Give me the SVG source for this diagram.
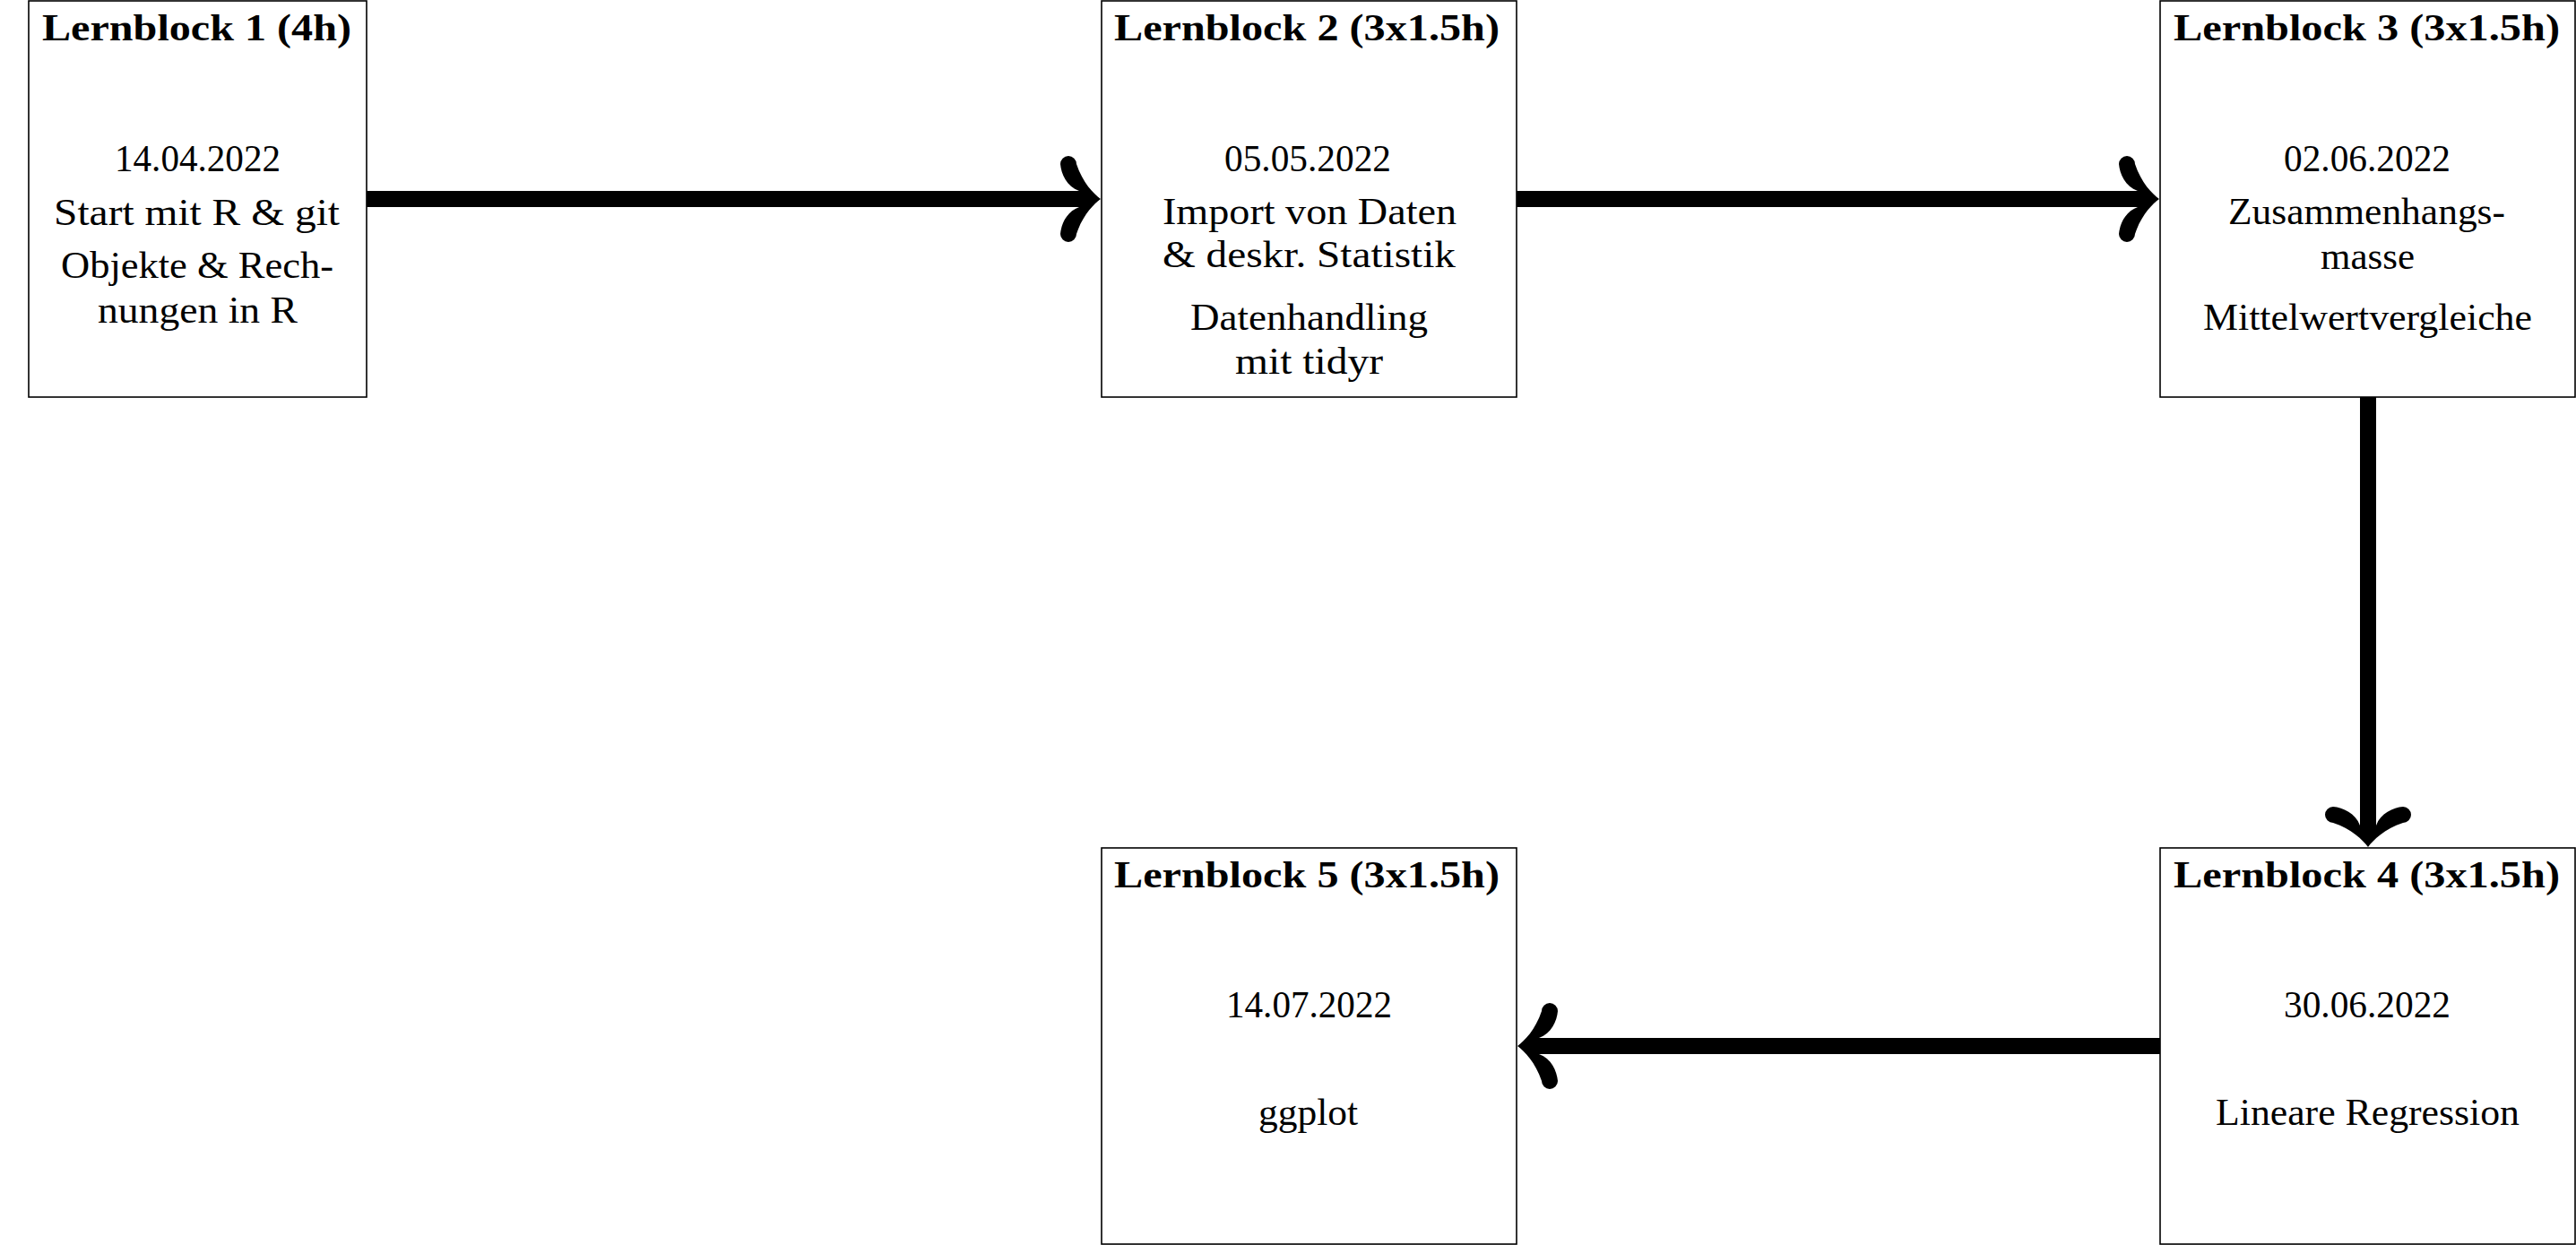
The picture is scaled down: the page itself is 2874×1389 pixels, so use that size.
<svg xmlns="http://www.w3.org/2000/svg" xmlns:xlink="http://www.w3.org/1999/xlink" width="2874" height="1389" viewBox="0 0 2874 1389">
  <style>
    .box { fill: #ffffff; stroke: #000000; stroke-width: 1.6; }
    .title { font-family: "Liberation Serif", "Times New Roman", serif; font-weight: bold; font-size: 43px; text-anchor: middle; fill: #000; }
    .body { font-family: "Liberation Serif", "Times New Roman", serif; font-size: 43px; text-anchor: middle; fill: #000; }
    .shaft { stroke: #000000; stroke-width: 18; fill: none; }
    .head { fill: #000000; }
  </style>
  <defs>
    <!-- curved barb arrowhead, tip at origin, pointing +x -->
    <path id="head" d="M 0,0 C -8,-6 -20,-18 -27,-39 A 9 9 0 0 0 -45,-39 C -44,-28 -38,-14 -24,-9 L -24,9 C -38,14 -44,28 -45,39 A 9 9 0 0 0 -27,39 C -20,18 -8,6 0,0 Z"/>
  </defs>
  <rect width="2874" height="1389" fill="#ffffff"/>

  <!-- connectors -->
  <g id="connectors">
    <line class="shaft" x1="409" y1="222" x2="1206" y2="222"/>
    <use href="#head" class="head" transform="translate(1228,222)"/>
    <line class="shaft" x1="1692" y1="222" x2="2388" y2="222"/>
    <use href="#head" class="head" transform="translate(2409,222)"/>
    <line class="shaft" x1="2642" y1="443" x2="2642" y2="924"/>
    <use href="#head" class="head" transform="translate(2642,945) rotate(90)"/>
    <line class="shaft" x1="2410" y1="1167" x2="1715" y2="1167"/>
    <use href="#head" class="head" transform="translate(1693,1167) rotate(180)"/>
  </g>

  <g id="block1">
    <rect class="box" x="32" y="1" width="377" height="442"/>
    <text class="title" x="219.5" y="45" textLength="345" lengthAdjust="spacingAndGlyphs">Lernblock 1 (4h)</text>
    <text class="body" x="220.5" y="191" textLength="185" lengthAdjust="spacingAndGlyphs">14.04.2022</text>
    <text class="body" x="219.5" y="251" textLength="319" lengthAdjust="spacingAndGlyphs">Start mit R &amp; git</text>
    <text class="body" x="220" y="310" textLength="304" lengthAdjust="spacingAndGlyphs">Objekte &amp; Rech-</text>
    <text class="body" x="220.5" y="360" textLength="223" lengthAdjust="spacingAndGlyphs">nungen in R</text>
  </g>

  <g id="block2">
    <rect class="box" x="1229" y="1" width="463" height="442"/>
    <text class="title" x="1458" y="45" textLength="430" lengthAdjust="spacingAndGlyphs">Lernblock 2 (3x1.5h)</text>
    <text class="body" x="1459" y="191" textLength="186" lengthAdjust="spacingAndGlyphs">05.05.2022</text>
    <text class="body" x="1461" y="250" textLength="328" lengthAdjust="spacingAndGlyphs">Import von Daten</text>
    <text class="body" x="1460.5" y="298" textLength="327" lengthAdjust="spacingAndGlyphs">&amp; deskr. Statistik</text>
    <text class="body" x="1460.5" y="368" textLength="265" lengthAdjust="spacingAndGlyphs">Datenhandling</text>
    <text class="body" x="1460.5" y="417" textLength="165" lengthAdjust="spacingAndGlyphs">mit tidyr</text>
  </g>

  <g id="block3">
    <rect class="box" x="2410" y="1" width="463" height="442"/>
    <text class="title" x="2640.5" y="45" textLength="431" lengthAdjust="spacingAndGlyphs">Lernblock 3 (3x1.5h)</text>
    <text class="body" x="2641" y="191" textLength="186" lengthAdjust="spacingAndGlyphs">02.06.2022</text>
    <text class="body" x="2640.5" y="250" textLength="309" lengthAdjust="spacingAndGlyphs">Zusammenhangs-</text>
    <text class="body" x="2641.5" y="300" textLength="105" lengthAdjust="spacingAndGlyphs">masse</text>
    <text class="body" x="2641.5" y="368" textLength="367" lengthAdjust="spacingAndGlyphs">Mittelwertvergleiche</text>
  </g>

  <g id="block4">
    <rect class="box" x="2410" y="946" width="463" height="442"/>
    <text class="title" x="2640.5" y="990" textLength="431" lengthAdjust="spacingAndGlyphs">Lernblock 4 (3x1.5h)</text>
    <text class="body" x="2641" y="1135" textLength="186" lengthAdjust="spacingAndGlyphs">30.06.2022</text>
    <text class="body" x="2641.5" y="1255" textLength="339" lengthAdjust="spacingAndGlyphs">Lineare Regression</text>
  </g>

  <g id="block5">
    <rect class="box" x="1229" y="946" width="463" height="442"/>
    <text class="title" x="1458" y="990" textLength="430" lengthAdjust="spacingAndGlyphs">Lernblock 5 (3x1.5h)</text>
    <text class="body" x="1460.5" y="1135" textLength="185" lengthAdjust="spacingAndGlyphs">14.07.2022</text>
    <text class="body" x="1459.5" y="1255" textLength="111" lengthAdjust="spacingAndGlyphs">ggplot</text>
  </g>
</svg>
